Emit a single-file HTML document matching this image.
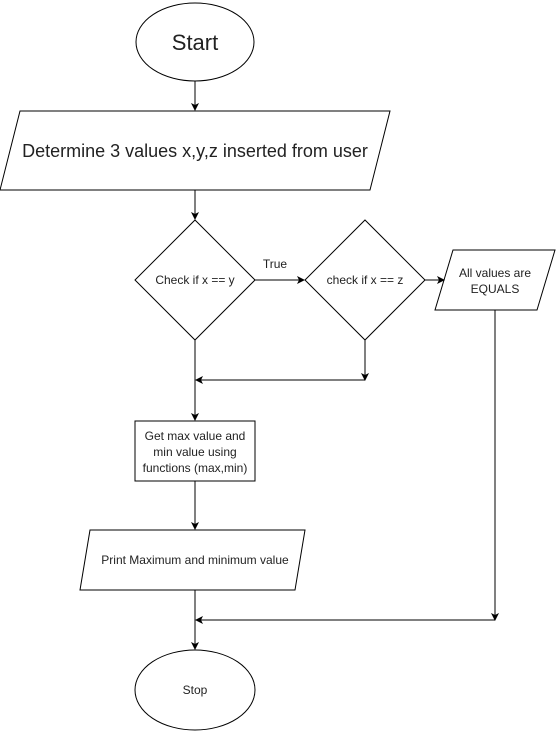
<!DOCTYPE html>
<html><head><style>body{margin:0;background:#fff}svg{display:block}text{font-family:"Liberation Sans",sans-serif;fill:#222;text-anchor:middle}</style></head>
<body>
<svg width="557" height="732" viewBox="0 0 557 732">
<defs><marker id="a" markerWidth="8" markerHeight="8" refX="7" refY="4" orient="auto" markerUnits="userSpaceOnUse"><path d="M0,0 L8,4 L0,8 L2,4 Z" fill="#000"/></marker></defs>
<g fill="#fff" stroke="#000" stroke-width="1">
<ellipse cx="195" cy="42" rx="59" ry="39"/>
<polygon points="20,111 390,111 370,190 0,190"/>
<polygon points="195,220 255,280 195,340 135,280"/>
<polygon points="365,220 425,280 365,340 305,280"/>
<polygon points="453,250 555,250 537,310 435,310"/>
<rect x="135" y="421" width="120" height="60"/>
<polygon points="90,530 305,530 295,590 80,590"/>
<ellipse cx="195" cy="690" rx="60" ry="40"/>
</g>
<g stroke="#000" fill="none" stroke-width="1">
<path d="M195,81 V110" marker-end="url(#a)"/>
<path d="M195,190 V219" marker-end="url(#a)"/>
<path d="M255,280 H304" marker-end="url(#a)"/>
<path d="M425,280 H444" marker-end="url(#a)"/>
<path d="M365,340 V380" marker-end="url(#a)"/>
<path d="M365,380 H196" marker-end="url(#a)"/>
<path d="M195,340 V420" marker-end="url(#a)"/>
<path d="M195,481 V529" marker-end="url(#a)"/>
<path d="M195,590 V649" marker-end="url(#a)"/>
<path d="M495,310 V620" marker-end="url(#a)"/>
<path d="M495,620 H196" marker-end="url(#a)"/>
</g>
<text x="195" y="50" font-size="22">Start</text>
<text x="195" y="157" font-size="18">Determine 3 values x,y,z inserted from user</text>
<text x="195" y="284" font-size="12">Check if x == y</text>
<text x="275" y="268" font-size="12">True</text>
<text x="365" y="284" font-size="12">check if x == z</text>
<text x="495" y="277" font-size="12">All values are</text>
<text x="495" y="293" font-size="12">EQUALS</text>
<text x="195" y="440" font-size="12">Get max value and</text>
<text x="195" y="456" font-size="12">min value using</text>
<text x="195" y="472" font-size="12">functions (max,min)</text>
<text x="195" y="564" font-size="12">Print Maximum and minimum value</text>
<text x="195" y="694" font-size="12">Stop</text>
</svg>
</body></html>
